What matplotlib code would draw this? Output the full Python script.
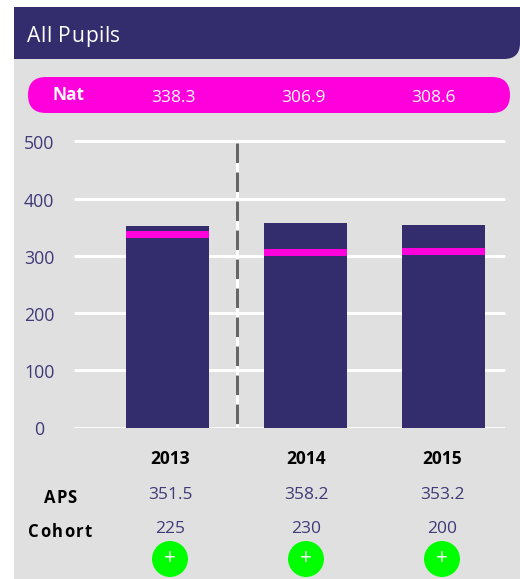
import matplotlib
matplotlib.use('Agg')
import matplotlib.pyplot as plt
from matplotlib.patches import FancyBboxPatch, Rectangle, Circle, PathPatch
from matplotlib.path import Path
from matplotlib.transforms import ScaledTranslation

years = ['2013', '2014', '2015']
aps = [351.5, 358.2, 353.2]
nat = [338.3, 306.9, 308.6]
cohort = [225, 230, 200]
yticks = [0, 100, 200, 300, 400, 500]

NAVY = '#332d6e'
MAGENTA = '#ff00dc'
GREY = '#e0e0e0'
GREEN = '#00ff00'
TICK = '#3f3a78'

plt.rcParams['font.family'] = ['Open Sans', 'DejaVu Sans']

W, H = 520, 579
fig = plt.figure(figsize=(W / 100, H / 100), dpi=100, facecolor='white')

# background in pixel coordinates, y going down
bg = fig.add_axes([0, 0, 1, 1])
bg.set_xlim(0, W)
bg.set_ylim(H, 0)
bg.axis('off')
bg.add_patch(Rectangle((14, 7), W - 14, H - 7, fc=GREY, ec='none'))


def spaced_text(cx, y, s, gap, **kw):
    # matplotlib has no letter spacing, so place the letters one by one
    rend = fig.canvas.get_renderer()
    widths = []
    for i in range(1, len(s) + 1):
        t = bg.text(0, 0, s[:i], **kw)
        widths.append(t.get_window_extent(rend).width)
        t.remove()
    total = widths[-1] + gap * (len(s) - 1)
    left = cx - total / 2
    for i, ch in enumerate(s):
        before = widths[i - 1] if i else 0
        bg.text(left + before + gap * i, y, ch, ha='left', va='baseline', **kw)


# header, only the bottom right corner is rounded
r = 16
verts = [(14, 7), (W, 7), (W, 59 - r), (W, 59), (W - r, 59), (14, 59), (14, 7)]
codes = [Path.MOVETO, Path.LINETO, Path.LINETO, Path.CURVE3, Path.CURVE3, Path.LINETO, Path.CLOSEPOLY]
bg.add_patch(PathPatch(Path(verts, codes), fc=NAVY, ec='none'))
spaced_text(73.5, 42, 'All Pupils', 0.5, color='white', fontsize=15.2)

# national average pill
bg.add_patch(FancyBboxPatch((28 + 18, 77 + 18), 482 - 36, 0, boxstyle='round,pad=18,rounding_size=18',
                            fc=MAGENTA, ec='none'))
bg.text(68, 95, 'Nat', color='white', fontsize=12.5, fontweight='bold', va='center', ha='center')

# chart
ax = fig.add_axes([74 / W, 1 - 427.5 / H, (505 - 74) / W, (427.5 - 141.5) / H])
ax.patch.set_alpha(0)
x = list(range(len(years)))
ax.set_xlim(-0.6775, 2.4457)
ax.set_ylim(0, 500)
ax.set_axisbelow(True)
ax.yaxis.grid(True, color='white', linewidth=2.1)
ax.set_yticks(yticks)
ax.set_xticks([])
ax.tick_params(axis='y', length=0, pad=25, labelsize=12.8, labelcolor=TICK)
shift = ScaledTranslation(0, -0.6 / 72, fig.dpi_scale_trans)
for lab in ax.get_yticklabels():
    lab.set_ha('center')
    lab.set_va('center_baseline')
    lab.set_transform(lab.get_transform() + shift)
for s in ax.spines.values():
    s.set_visible(False)
for line in ax.get_ygridlines():
    line.set_solid_capstyle('butt')
for line in ax.get_ygridlines()[1:]:
    line.set_clip_on(False)

ax.bar(x, aps, width=0.6014, color=NAVY, zorder=2)
ax.bar(x, [12] * 3, bottom=[n - 6.5 for n in nat], width=0.6014, color=MAGENTA, zorder=3)
ax.plot([0.507, 0.507], [497, 0], color='white', linewidth=2.16, zorder=1.5, solid_capstyle='butt')
ax.plot([0.507, 0.507], [497, 0], color='#666666', linewidth=2.16, linestyle=(0, (6.5, 3.17)),
        dash_capstyle='butt', zorder=1.6)

# table under the chart
nat_x = [173, 303, 433]
col_x = [170, 306, 442]
for i, px in enumerate(col_x):
    bg.text(nat_x[i], 98, f'{nat[i]:.1f}', color='white', fontsize=12.5, va='center', ha='center')
    bg.text(px, 459, years[i], color='black', fontsize=12.5, fontweight='bold', va='center', ha='center')
    bg.text(px, 495, f'{aps[i]:.1f}', color=TICK, fontsize=12.5, va='center', ha='center')
    bg.text(px, 529, str(cohort[i]), color=TICK, fontsize=12.5, va='center', ha='center')
    bg.add_patch(Circle((px, 559), 18, fc=GREEN, ec='none'))
    bg.text(px, 558, '+', color='white', fontsize=15, va='center', ha='center')

spaced_text(60, 503, 'APS', 1.0, color='black', fontsize=12, fontweight='bold')
spaced_text(60, 537, 'Cohort', 1.4, color='black', fontsize=12, fontweight='bold')

fig.savefig('out.png', dpi=100)
